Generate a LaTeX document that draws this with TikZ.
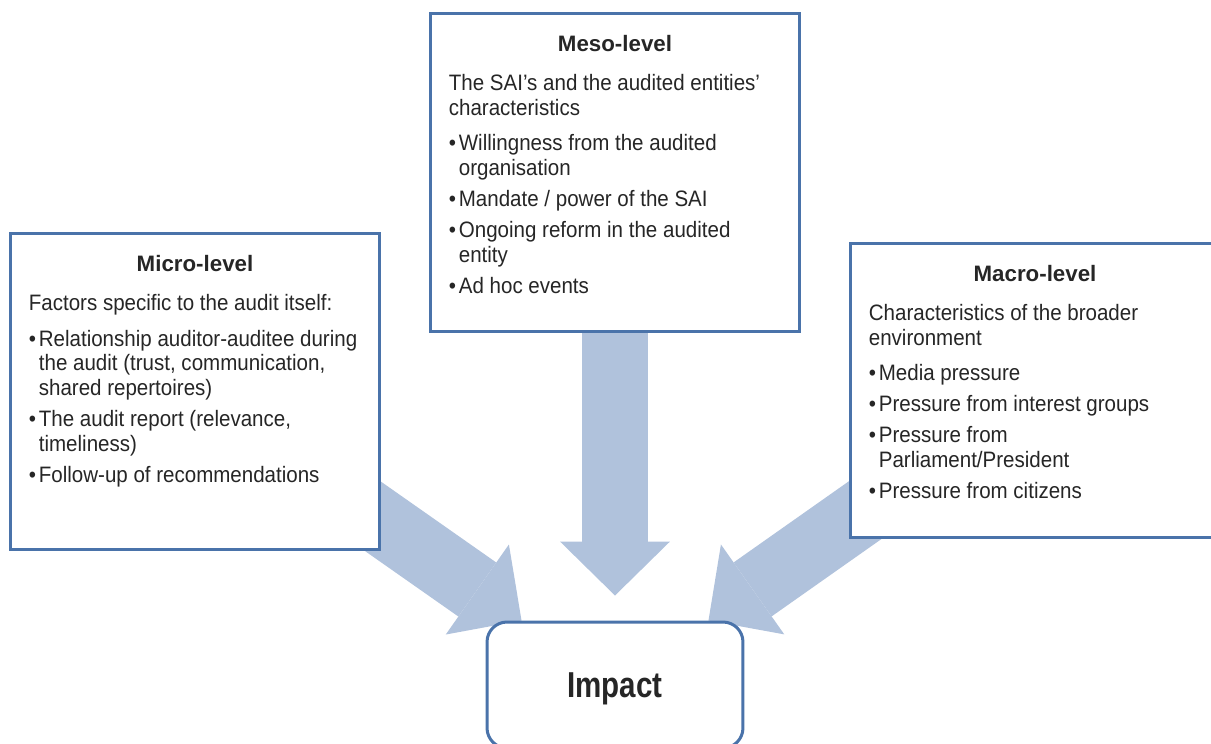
\documentclass[tikz,border=0pt]{standalone}
\usepackage{fontspec}
\setmainfont{Liberation Sans}[FakeStretch=0.92]
\newfontfamily\headfont{Liberation Sans}
\newfontfamily\impactfont{Liberation Sans}[FakeStretch=0.82]
\usetikzlibrary{arrows.meta,calc,backgrounds}
\definecolor{boxblue}{RGB}{74,115,170}
\definecolor{arrowblue}{RGB}{176,194,220}
\definecolor{textgray}{RGB}{38,38,38}
\newcommand{\bul}{\makebox[0.2cm][l]{\textbullet}}
\newcommand{\bulind}{\hspace*{0.2cm}}

\begin{document}
\begin{tikzpicture}[x=0.02cm, y=-0.02cm,
	levelbox/.style={draw=boxblue, line width=0.06cm, fill=white, minimum width=7.4cm, inner sep=0pt},
	leveltitle/.style={font=\headfont\bfseries\fontsize{12.7}{14.2}\selectfont, text=textgray, inner sep=0pt, anchor=base},
	leveltext/.style={font=\fontsize{12.7}{14.2}\selectfont, text=textgray, align=left, inner sep=0pt, anchor=north west},
	bigarrow/.style={arrowblue, line width=1.32cm, -{Triangle[length=1.08cm, width=2.2cm, line width=0pt]}}]
			\useasboundingbox (0,0) rectangle (1211,744);
			% the three level boxes
			\node[levelbox, minimum height=6.34cm] (micro) at (195,391.5) {};
			\node[levelbox, minimum height=6.38cm] (meso) at (615,172.5) {};
			\node[levelbox, minimum height=5.9cm] (macro) at (1035,390.5) {};
			\node[draw=boxblue, line width=0.06cm, fill=white, rounded corners=0.4cm, minimum width=5.12cm, minimum height=2.52cm, text depth=0pt, text=textgray, font=\impactfont\bfseries\fontsize{20.5}{24}\selectfont] (impact) at (615,685) {Impact};
			% titles
			\node[leveltitle] (microtitle) at ($(micro.north)+(0,40)$) {Micro-level};
			\node[leveltitle] (mesotitle) at ($(meso.north)+(0,40)$) {Meso-level};
			\node[leveltitle] (macrotitle) at ($(macro.north)+(0,40)$) {Macro-level};
			% texts
			\node[leveltext] (microtext) at ($(micro.north west)+(20,62)$) {Factors specific to the audit itself:\\[0.22cm]
				\bul Relationship auditor-auditee during\\
				\bulind the audit (trust, communication,\\
				\bulind shared repertoires)\\[0.12cm]
				\bul The audit report (relevance,\\
				\bulind timeliness)\\[0.12cm]
				\bul Follow-up of recommendations};
			\node[leveltext] (mesotext) at ($(meso.north west)+(20,62)$) {The SAI’s and the audited entities’\\
				characteristics\\[0.22cm]
				\bul Willingness from the audited\\
				\bulind organisation\\[0.12cm]
				\bul Mandate / power of the SAI\\[0.12cm]
				\bul Ongoing reform in the audited\\
				\bulind entity\\[0.12cm]
				\bul Ad hoc events};
			\node[leveltext] (macrotext) at ($(macro.north west)+(20,62)$) {Characteristics of the broader\\
				environment\\[0.22cm]
				\bul Media pressure\\[0.12cm]
				\bul Pressure from interest groups\\[0.12cm]
				\bul Pressure from\\
				\bulind Parliament/President\\[0.12cm]
				\bul Pressure from citizens};
			% arrows into impact
			\begin{scope}[on background layer]
				\draw[bigarrow] (micro.center) -- ($(impact.north west)+(36,0)$);
				\draw[bigarrow] (meso.center) -- ($(impact.north)+(0,-25)$);
				\draw[bigarrow] (macro.center) -- ($(impact.north east)+(-36,0)$);
			\end{scope}
		\end{tikzpicture}
\end{document}
